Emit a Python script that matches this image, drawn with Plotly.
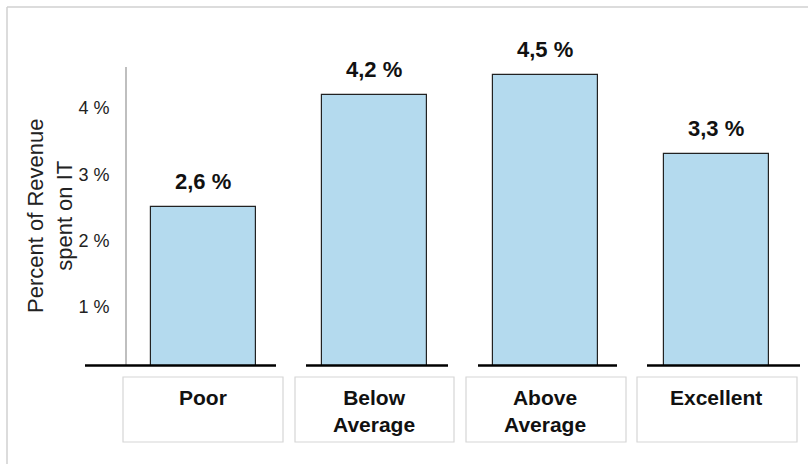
import plotly.graph_objects as go

# ---- data ----
categories = ["Poor", "Below<br>Average", "Above<br>Average", "Excellent"]
bar_values = [2.5, 4.2, 4.5, 3.3]          # bar heights as drawn
label_values = [2.6, 4.2, 4.5, 3.3]        # values printed above bars
y_ticks = [1, 2, 3, 4]
y_title = "Percent of Revenue<br>spent on IT"

FONT = "Arial, Liberation Sans, sans-serif"
W, H = 808, 464
ML, MR, MT, MB = 127, 8, 67, 99
PW, PH = W - ML - MR, H - MT - MB

def px_x(p):  # pixel x -> paper
    return (p - ML) / PW

def px_y(p):  # pixel y -> paper
    return (H - MB - p) / PH

xi = list(range(len(categories)))

fig = go.Figure()
fig.add_trace(go.Bar(
    x=xi, y=bar_values, width=0.614,
    marker=dict(color="#B4DAEE", line=dict(color="#222222", width=1.2)),
    hoverinfo="skip", cliponaxis=True,
))

annotations = []
for i, v in enumerate(bar_values):
    annotations.append(dict(
        x=i, y=v, xref="x", yref="y", yanchor="bottom", yshift=11,
        text="<b>" + f"{label_values[i]:.1f}".replace(".", ",") + " %</b>",
        showarrow=False, font=dict(family=FONT, size=22, color="#111111")))
    annotations.append(dict(
        x=i, y=px_y(384), xref="x", yref="paper", yanchor="top",
        text="<b>" + categories[i].replace("<br>", "</b><br><b>") + "</b>",
        showarrow=False,
        font=dict(family=FONT, size=21, color="#111111")))

annotations.append(dict(
    x=px_x(50), y=0.5, xref="paper", yref="paper", textangle=-90,
    text=y_title, showarrow=False, xanchor="center", yanchor="middle",
    font=dict(family=FONT, size=22, color="#222222")))

shapes = []
# outer frame (left and top edges visible)
shapes.append(dict(type="line", xref="paper", yref="paper",
                   x0=px_x(7), y0=px_y(470), x1=px_x(7), y1=px_y(7),
                   line=dict(color="#d0d0d0", width=1.5)))
shapes.append(dict(type="line", xref="paper", yref="paper",
                   x0=px_x(7), y0=px_y(7), x1=px_x(815), y1=px_y(7),
                   line=dict(color="#d0d0d0", width=1.5)))
# broken baseline segments
for a, b in [(85, 276), (306, 448), (478, 617), (647, 800)]:
    shapes.append(dict(type="line", xref="paper", yref="paper",
                       x0=px_x(a), y0=px_y(365.5), x1=px_x(b), y1=px_y(365.5),
                       line=dict(color="#000000", width=2.6)))
# category boxes
for a, b in [(123, 283), (295, 454), (466, 626), (637, 797)]:
    shapes.append(dict(type="rect", xref="paper", yref="paper",
                       x0=px_x(a), x1=px_x(b), y0=px_y(442), y1=px_y(377),
                       line=dict(color="#d6d6d6", width=1.2), fillcolor="rgba(0,0,0,0)"))

fig.update_layout(
    width=W, height=H,
    margin=dict(l=ML, r=MR, t=MT, b=MB, autoexpand=False),
    paper_bgcolor="white", plot_bgcolor="white",
    showlegend=False, bargap=0,
    xaxis=dict(range=[(ML - 203) / 171, (W - MR - 203) / 171],
               showticklabels=False, showgrid=False, zeroline=False,
               showline=False, ticks="", fixedrange=True),
    yaxis=dict(range=[(373.3 - (H - MB)) / 66.33, (373.3 - MT) / 66.33],
               tickvals=y_ticks, ticktext=[f"{t} %" for t in y_ticks],
               showgrid=False, zeroline=False, showline=True,
               linecolor="#bfbfbf", linewidth=1.5, ticks="",
               ticklabelstandoff=12,
               tickfont=dict(family=FONT, size=18, color="#222222")),
    annotations=annotations, shapes=shapes,
)

fig.write_html("out.html")
